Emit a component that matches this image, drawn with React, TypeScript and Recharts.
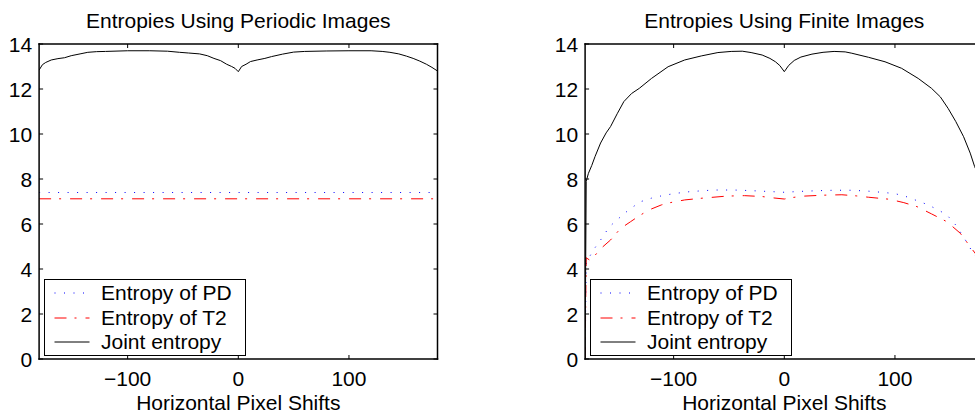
import React from 'react';
import { LineChart, Line, XAxis, YAxis, Legend, Label } from 'recharts';

// periodic images: joint entropy, PD and T2 stay flat
const periodicJointShifts = [-180, -177, -174, -169, -163, -157, -151, -143, -136, -128, -120, -100, -80, -64, -53, -45, -35, -28, -22, -16, -10.5, -6, -3, 0, 3, 7, 11, 17, 24, 30, 40, 50, 60, 80, 100, 120, 130, 137, 145, 152, 158, 164, 170, 175, 180];
const periodicJoint = [12.84, 13.08, 13.18, 13.29, 13.35, 13.39, 13.48, 13.56, 13.63, 13.66, 13.67, 13.7, 13.7, 13.68, 13.63, 13.6, 13.56, 13.48, 13.36, 13.26, 13.1, 13.0, 12.92, 12.77, 13.0, 13.1, 13.22, 13.29, 13.36, 13.44, 13.55, 13.64, 13.67, 13.69, 13.7, 13.7, 13.67, 13.63, 13.56, 13.46, 13.36, 13.24, 13.1, 12.96, 12.8];
const periodicFlatShifts = [-180, 180];
const periodicPd = [7.4, 7.4];
const periodicT2 = [7.12, 7.12];

// finite images
const finiteJointShifts = [-180, -179, -177, -174, -171, -166, -161, -157, -151, -145, -138, -131, -120, -105, -90, -75, -60, -48, -38, -30, -20, -13, -8, -4, 0, 4, 9, 15, 25, 35, 45, 55, 61, 76, 91, 106, 121, 133, 141, 148, 155, 162, 168, 172, 176, 179, 180];
const finiteJoint = [0, 7.9, 8.25, 8.6, 9.0, 9.6, 10.05, 10.33, 10.9, 11.44, 11.8, 12.03, 12.47, 12.99, 13.29, 13.47, 13.62, 13.67, 13.68, 13.62, 13.51, 13.36, 13.21, 13.04, 12.77, 13.05, 13.27, 13.42, 13.55, 13.63, 13.67, 13.65, 13.59, 13.41, 13.21, 12.92, 12.47, 12.03, 11.65, 11.14, 10.55, 9.88, 9.15, 8.55, 8.1, 7.8, 0];
const finitePdShifts = [-180, -179, -176, -171, -166, -158, -148, -140, -130, -120, -112, -100, -85, -64, -45, -29, -12, 0, 15, 30, 45, 61, 76, 90, 100, 110, 122, 130, 140, 147, 155, 161, 166, 170, 175, 178, 180];
const finitePd = [0, 4.3, 4.55, 4.95, 5.29, 5.88, 6.32, 6.65, 6.99, 7.15, 7.24, 7.35, 7.44, 7.51, 7.51, 7.48, 7.44, 7.41, 7.45, 7.48, 7.5, 7.5, 7.46, 7.4, 7.35, 7.22, 7.0, 6.85, 6.6, 6.4, 5.95, 5.5, 5.1, 4.75, 4.45, 4.3, 0];
const finiteT2Shifts = [-180, -179, -176, -172, -166, -157, -148, -139, -130, -121, -111, -103, -90, -76, -52, -36, -20, -10, 0, 6, 18, 35, 52, 65, 76, 95, 108, 120, 133, 147, 159, 168, 174, 177, 180];
const finiteT2 = [0, 4.5, 4.4, 4.55, 4.9, 5.29, 5.8, 6.1, 6.4, 6.65, 6.85, 6.95, 7.07, 7.14, 7.24, 7.26, 7.22, 7.16, 7.11, 7.17, 7.24, 7.28, 7.3, 7.25, 7.19, 7.1, 6.95, 6.77, 6.45, 6.1, 5.59, 4.99, 4.6, 4.45, 0];

const xTicks = [-100, 0, 100];
const yTicks = [0, 2, 4, 6, 8, 10, 12, 14];
const seriesNames = ['Entropy of PD', 'Entropy of T2', 'Joint entropy'];
const titles = ['Entropies Using Periodic Images', 'Entropies Using Finite Images'];
const xLabel = 'Horizontal Pixel Shifts';

const FONT = '"Liberation Sans", Arial, Helvetica, sans-serif';
const FS = 21;
const TICK = 4;
const Y_GAP = 7;
const X_GAP = 12;
const frame = { stroke: '#000', strokeWidth: 1.5, strokeLinecap: 'square' };

const pdDash = '1 8.5';
const t2Dash = '12 8 2 9';

const fmt = (v: number) => (v < 0 ? '\u2212' + Math.abs(v) : String(v));

const toRows = (xs: number[], ys: number[]) => xs.map((x, i) => ({ x, v: ys[i] }));

function LeftTick(props: any) {
  const { x, y, payload } = props;
  const ax = x + Y_GAP;
  return (
    <g>
      <line x1={ax} x2={ax + TICK} y1={y} y2={y} stroke="#000" />
      <text x={x} y={y} dy="0.36em" textAnchor="end" fontSize={FS} fontFamily={FONT} fill="#000">
        {fmt(payload.value)}
      </text>
    </g>
  );
}

function RightTick(props: any) {
  const { x, y } = props;
  return <line x1={x} x2={x - TICK} y1={y} y2={y} stroke="#000" />;
}

function BottomTick(props: any) {
  const { x, y, payload } = props;
  const ay = y - X_GAP;
  return (
    <g>
      <line x1={x} x2={x} y1={ay} y2={ay - TICK} stroke="#000" />
      <text x={x} y={y} dy="0.71em" textAnchor="middle" fontSize={FS} fontFamily={FONT} fill="#000">
        {fmt(payload.value)}
      </text>
    </g>
  );
}

function TopTick(props: any) {
  const { x, y } = props;
  return <line x1={x} x2={x} y1={y} y2={y + TICK} stroke="#000" />;
}

function LegendBox(props: any) {
  const items = props.payload || [];
  return (
    <div
      style={{
        width: 202,
        height: 77,
        boxSizing: 'border-box',
        border: '1.5px solid #000',
        background: '#fff',
        paddingTop: 1,
        fontFamily: FONT,
        fontSize: FS,
        color: '#000',
      }}
    >
      {items.map((entry: any, i: number) => (
        <div key={i} style={{ display: 'flex', alignItems: 'center', height: 24.5, lineHeight: '24.5px' }}>
          <svg width={56} height={10} style={{ display: 'block' }}>
            <line
              x1={9.5}
              x2={44.5}
              y1={5}
              y2={5}
              stroke={entry.color}
              strokeWidth={1}
              strokeDasharray={entry.payload?.strokeDasharray}
            />
          </svg>
          <span>{entry.value}</span>
        </div>
      ))}
    </div>
  );
}

interface PanelProps {
  title: string;
  width: number;
  left: number;
  right: number;
  legendLeft: number;
  pd: { x: number; v: number }[];
  t2: { x: number; v: number }[];
  joint: { x: number; v: number }[];
}

// axes are 1px thick boxes, so margins are 1px short of the frame
function EntropyPanel({ title, width, left, right, legendLeft, pd, t2, joint }: PanelProps) {
  return (
    <LineChart width={width} height={415} margin={{ top: 43, right, bottom: 55, left }}>
      <XAxis
        dataKey="x"
        type="number"
        domain={[-180, 180]}
        ticks={xTicks}
        interval={0}
        height={1}
        tickSize={0}
        tickMargin={X_GAP}
        tickLine={false}
        axisLine={frame}
        tick={(p: any) => <BottomTick {...p} />}
        allowDataOverflow
      >
        <Label value={xLabel} position="bottom" offset={35} fontSize={FS} fontFamily={FONT} fill="#000" />
      </XAxis>
      <XAxis
        xAxisId="top"
        orientation="top"
        dataKey="x"
        type="number"
        domain={[-180, 180]}
        ticks={xTicks}
        interval={0}
        height={1}
        tickSize={0}
        tickMargin={0}
        tickLine={false}
        axisLine={frame}
        tick={(p: any) => <TopTick {...p} />}
        allowDataOverflow
      >
        <Label value={title} position="top" offset={15} fontSize={FS} fontFamily={FONT} fill="#000" />
      </XAxis>
      <YAxis
        type="number"
        domain={[0, 14]}
        ticks={yTicks}
        interval={0}
        width={1}
        tickSize={0}
        tickMargin={Y_GAP}
        tickLine={false}
        axisLine={frame}
        tick={(p: any) => <LeftTick {...p} />}
        allowDataOverflow
      />
      <YAxis
        yAxisId="right"
        orientation="right"
        type="number"
        domain={[0, 14]}
        ticks={yTicks}
        interval={0}
        width={1}
        tickSize={0}
        tickMargin={0}
        tickLine={false}
        axisLine={frame}
        tick={(p: any) => <RightTick {...p} />}
        allowDataOverflow
      />
      <Line
        data={pd}
        dataKey="v"
        name={seriesNames[0]}
        stroke="#0000ff"
        strokeWidth={1}
        strokeDasharray={pdDash}
        dot={false}
        activeDot={false}
        isAnimationActive={false}
      />
      <Line
        data={t2}
        dataKey="v"
        name={seriesNames[1]}
        stroke="#ff0000"
        strokeWidth={1}
        strokeDasharray={t2Dash}
        dot={false}
        activeDot={false}
        isAnimationActive={false}
      />
      <Line
        data={joint}
        dataKey="v"
        name={seriesNames[2]}
        stroke="#000000"
        strokeWidth={1}
        dot={false}
        activeDot={false}
        isAnimationActive={false}
      />
      <Legend
        layout="horizontal"
        verticalAlign="middle"
        align="center"
        wrapperStyle={{ left: legendLeft, top: 279, width: 202, height: 77 }}
        content={(p: any) => <LegendBox {...p} />}
      />
    </LineChart>
  );
}

export default function App() {
  return (
    <div
      style={{
        position: 'fixed',
        left: 0,
        top: 0,
        width: 975,
        height: 415,
        overflow: 'hidden',
        background: '#fff',
      }}
    >
      <div style={{ position: 'absolute', left: 0, top: 0 }}>
        <EntropyPanel
          title={titles[0]}
          width={490}
          left={38.1}
          right={51.5}
          legendLeft={44}
          pd={toRows(periodicFlatShifts, periodicPd)}
          t2={toRows(periodicFlatShifts, periodicT2)}
          joint={toRows(periodicJointShifts, periodicJoint)}
        />
      </div>
      <div style={{ position: 'absolute', left: 485, top: 0 }}>
        <EntropyPanel
          title={titles[1]}
          width={510}
          left={99.1}
          right={10.5}
          legendLeft={105}
          pd={toRows(finitePdShifts, finitePd)}
          t2={toRows(finiteT2Shifts, finiteT2)}
          joint={toRows(finiteJointShifts, finiteJoint)}
        />
      </div>
    </div>
  );
}
